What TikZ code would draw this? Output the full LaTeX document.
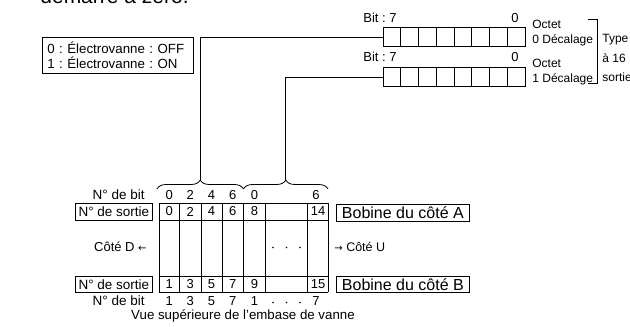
\documentclass[tikz,border=0pt]{standalone}
\usepackage{fontspec}
\setmainfont{Liberation Sans}
\newfontfamily\arrowfont{DejaVu Sans}
\usetikzlibrary{decorations.pathreplacing,calc}
\newcommand{\setfs}[1]{\fontsize{#1}{#1}\selectfont}
\newcommand{\larr}{{\arrowfont\fontsize{10}{10}\selectfont ←}}
\newcommand{\rarr}{{\arrowfont\fontsize{10}{10}\selectfont →}}
\frenchspacing

\begin{document}
\begin{tikzpicture}[x=1pt,y=-1pt,line width=0.8pt,
  txt/.style={inner sep=0pt,font=\setfs{12}},
  num/.style={inner sep=0pt,font=\setfs{13}},
  regbox/.style={draw,minimum width=142pt,minimum height=19pt,inner sep=0pt,anchor=north west},
  labbox/.style={draw,inner sep=0pt,anchor=north west},
  bracegrp/.style={decorate,decoration={brace,amplitude=9pt}},
  dot/.style={fill=black}]
\clip (0,0) rectangle (630,327);

% heading line (cut at the top edge)
\node[anchor=base west,inner sep=0pt,font=\setfs{21}] (heading) at (40,3.5) {démarre à zéro.};

% legend
\node[draw,anchor=north west,align=left,text width=141pt,inner xsep=5pt,inner ysep=0pt,
      minimum height=36pt,font={\fontsize{13.3}{15}\selectfont}] (legend) at (42,37)
  {0 : Électrovanne : OFF\\1 : Électrovanne : ON};

% output registers (8 bits each)
\node[regbox] (reg0) at (383,27) {};
\node[regbox] (reg1) at (383,67) {};
\foreach \r in {reg0,reg1}
  \foreach \i in {1,...,7}
    \draw ($(\r.north west)+(\i*17.75,0)$) -- ($(\r.south west)+(\i*17.75,0)$);

\node[txt,anchor=base west,font=\setfs{13}] (bitA7) at (363,22) {Bit : 7};
\node[txt,anchor=base,font=\setfs{13}] (bitA0) at (515,22) {0};
\node[txt,anchor=base west] (octA) at (532,28.5) {Octet};
\node[txt,anchor=base west] (decA) at (532,43.5) {0 Décalage};

\node[txt,anchor=base west,font=\setfs{13}] (bitB7) at (363,61.5) {Bit : 7};
\node[txt,anchor=base,font=\setfs{13}] (bitB0) at (515,61.5) {0};
\node[txt,anchor=base west] (octB) at (532,67.5) {Octet};
\node[txt,anchor=base west] (decB) at (532,82.5) {1 Décalage};

% bracket grouping both bytes
\draw (588,19) -- (597,19) -- (597,83) -- (588,83);
\node[txt,anchor=west] (type1) at (602,40) {Type};
\node[txt,anchor=west] (type2) at (602,58.5) {à 16};
\node[txt,anchor=west] (type3) at (602,77) {sorties};

% braces over the manifold stations
\draw[bracegrp] (157,189) -- (243.5,189);
\draw[bracegrp] (243.5,189) -- (328,189);
\coordinate (tipA) at (200.25,180);
\coordinate (tipB) at (285.75,180);

\draw (reg0.west) -| (tipA);
\draw (reg1.west) -| (tipB);

% manifold grid
\foreach \x in {159,179.5,201,222,243.5,265.5,307.5,328}
  \draw (\x,203) -- (\x,292);
\foreach \y in {203,220,276,292}
  \draw (159,\y) -- (328,\y);

% side labels
\node[labbox,minimum width=77pt,minimum height=17pt,font=\setfs{13.5}] (sortA) at (75,203) {N° de sortie};
\node[labbox,minimum width=77pt,minimum height=16pt,font=\setfs{13.5}] (sortB) at (75,276) {N° de sortie};
\node[labbox,minimum width=133pt,minimum height=17pt,font=\setfs{16}] (bobA) at (336,204) {Bobine du côté A};
\node[labbox,minimum width=133pt,minimum height=16pt,font=\setfs{16}] (bobB) at (336,276) {Bobine du côté B};

\node[txt,anchor=east,font=\setfs{13.5}] (bitTop) at (145,195) {N° de bit};
\node[txt,anchor=east,font=\setfs{13.5}] (bitBot) at (145,301) {N° de bit};
\node[txt,anchor=east,font=\setfs{13}] (coteD) at (147,247) {Côté D \larr};
\node[txt,anchor=west,font=\setfs{12.5}] (coteU) at (334,247) {\rarr\ Côté U};

% bit numbers above
\foreach \x/\t in {169.25/0,190.25/2,211.5/4,232.75/6,254.5/0,316/6}
  \node[num] at (\x,195) {\t};
% output numbers, side A
\foreach \x/\t in {169.25/0,190.25/2,211.5/4,232.75/6,254.5/8,318/14}
  \node[num] at (\x,211.5) {\t};
% output numbers, side B
\foreach \x/\t in {169.25/1,190.25/3,211.5/5,232.75/7,254.5/9,318/15}
  \node[num] at (\x,284) {\t};
% bit numbers below
\foreach \x/\t in {169.25/1,190.25/3,211.5/5,232.75/7,254.5/1,316/7}
  \node[num] at (\x,301) {\t};

% ellipses
\foreach \x in {273,286.5,300} {
  \fill[dot] (\x,247.5) circle (0.9pt);
  \fill[dot] (\x,302.5) circle (0.9pt);
}

\node[inner sep=0pt,font=\setfs{13.3}] (caption) at (243,316) {Vue supérieure de l’embase de vanne};
\end{tikzpicture}
\end{document}
